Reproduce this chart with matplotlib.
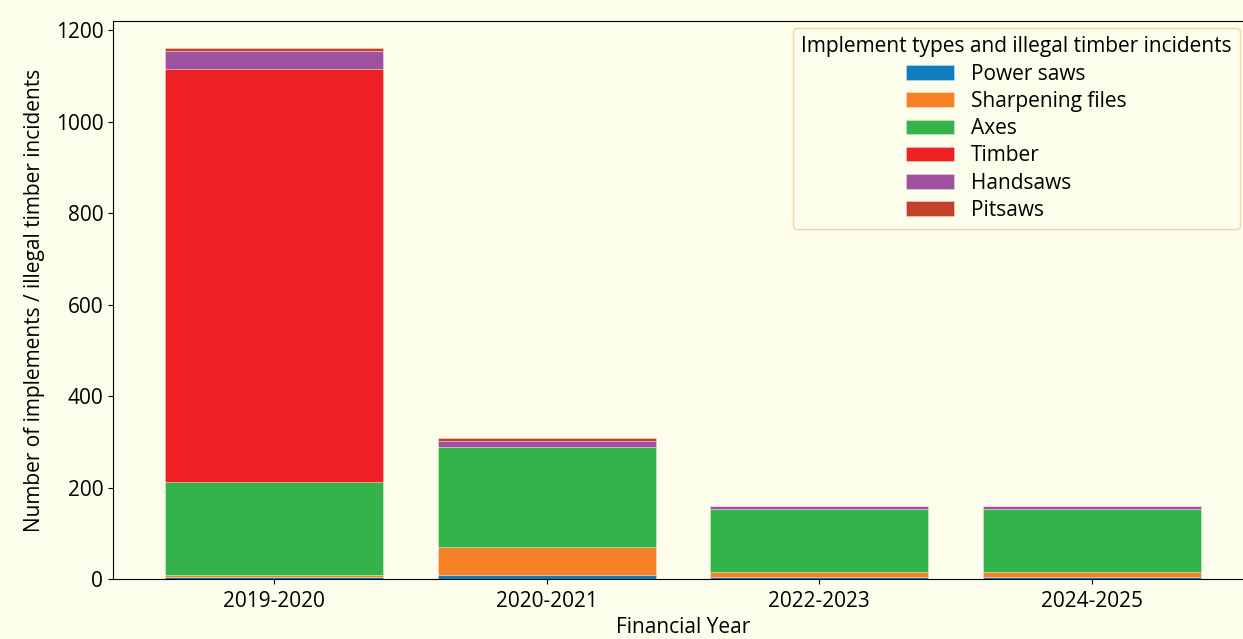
import matplotlib
matplotlib.use("Agg")
import matplotlib.pyplot as plt
import numpy as np

years = ["2019-2020", "2020-2021", "2022-2023", "2024-2025"]
power_saws = [4, 8, 4, 4]
sharpening_files = [4, 62, 12, 12]
axes_vals = [203, 218, 137, 137]
timber = [904, 0, 0, 0]
handsaws = [40, 14, 7, 7]
pitsaws = [7, 6, 0, 0]

series = [
    ("Power saws", power_saws, "#0f7cc0"),
    ("Sharpening files", sharpening_files, "#f58025"),
    ("Axes", axes_vals, "#33b34a"),
    ("Timber", timber, "#ee1f25"),
    ("Handsaws", handsaws, "#9e519f"),
    ("Pitsaws", pitsaws, "#c5402b"),
]

plt.rcParams['font.family'] = ['Open Sans', 'DejaVu Sans']
bg = "#fdfdec"
fig = plt.figure(figsize=(12.43, 6.39), dpi=100, facecolor=bg)
ax = fig.add_axes([113/1243, 1-579/639, (1253-113)/1243, (579-21)/639])
ax.set_facecolor(bg)

x = np.arange(len(years))
bottom = np.zeros(len(years))
for name, vals, col in series:
    vals = np.array(vals, dtype=float)
    ax.bar(x, vals, 0.8, bottom=bottom, color=col, label=name,
           edgecolor=(1, 1, 1, 0.35), linewidth=0.6)
    bottom += vals

ax.set_xticks(x)
ax.set_xticklabels(years, fontsize=15)
ax.tick_params(axis='x', labelsize=15, pad=5)
ax.tick_params(axis='y', labelsize=15)
ax.set_ylim(0, 1220)
ax.set_xlim(-0.59, 3.59)
ax.set_xlabel("Financial Year", fontsize=15, labelpad=4)
ax.set_ylabel("Number of implements / illegal timber incidents", fontsize=15, labelpad=8)

leg = fig.legend(title="Implement types and illegal timber incidents",
                 loc='upper right', bbox_to_anchor=(1240/1243, 1-28/639),
                 fontsize=15, title_fontsize=15, facecolor=bg,
                 edgecolor="#f7d6a6", framealpha=1, borderaxespad=0,
                 labelspacing=0.3, borderpad=0.4, handlelength=2.3)
leg.get_frame().set_linewidth(1.0)

fig.savefig("out.png", dpi=100, facecolor=bg)
